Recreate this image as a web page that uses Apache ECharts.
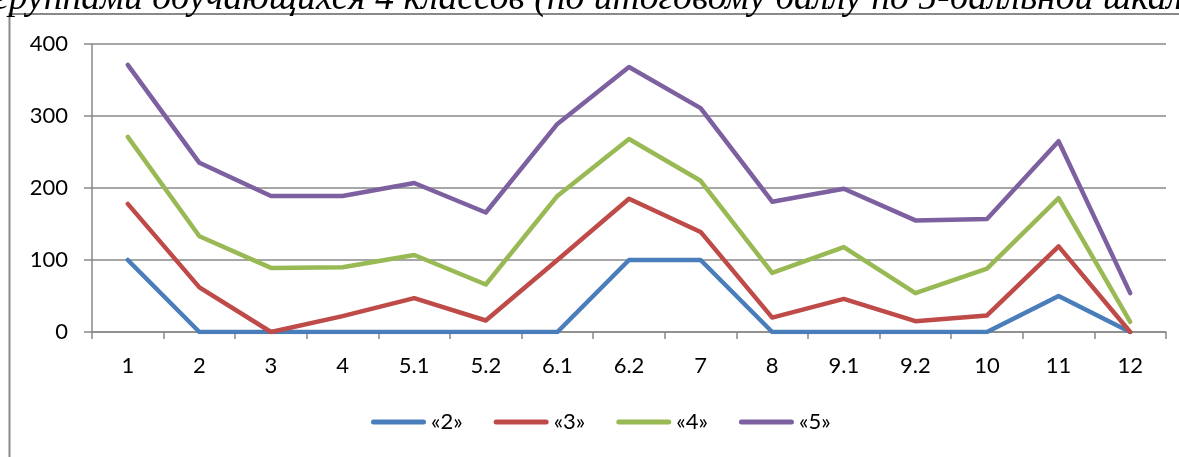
<!DOCTYPE html>
<html>
<head>
<meta charset="utf-8">
<script src="https://cdn.jsdelivr.net/npm/echarts@6/dist/echarts.min.js"></script>
<style>
  html, body { margin: 0; padding: 0; background: #fff; }
  #chart { width: 1179px; height: 457px; }
</style>
</head>
<body>
<div id="chart"></div>
<script>
// Task / item numbers along the horizontal axis
const categories = ['1', '2', '3', '4', '5.1', '5.2', '6.1', '6.2', '7', '8', '9.1', '9.2', '10', '11', '12'];

// Cumulative line values for each grade group
const grade2 = [100, 0, 0, 0, 0, 0, 0, 100, 100, 0, 0, 0, 0, 50, 0];
const grade3 = [178, 62, 0, 22, 47, 16, 100, 185, 139, 20, 46, 15, 23, 119, 0];
const grade4 = [271, 133, 89, 90, 107, 66, 189, 268, 210, 82, 118, 54, 88, 186, 14];
const grade5 = [371, 235, 189, 189, 207, 166, 289, 368, 311, 181, 199, 155, 157, 265, 54];

const seriesNames = ['«2»', '«3»', '«4»', '«5»'];
const yTicks = { min: 0, max: 400, interval: 100 };

const titleText = 'группами обучающихся 4 классов (по итоговому баллу по 5-балльной шкале)';

const colors = ['#4A7EBB', '#BE4B48', '#98B954', '#7D60A0'];
const gridColor = '#898989';
const labelFont = 'Lato';

// rounded bar used as the legend key for each line
const legendKey = 'path://M2.5,0 H52.5 A2.5,2.5 0 0 1 52.5,5 H2.5 A2.5,2.5 0 0 1 2.5,0 Z';
const legendText = { fontFamily: labelFont, fontSize: 22, color: '#000' };

const chart = echarts.init(document.getElementById('chart'), null, { renderer: 'canvas' });

function lineSeries(name, data, color) {
  return {
    name: name,
    type: 'line',
    data: data,
    symbol: 'none',
    smooth: false,
    lineStyle: { color: color, width: 4.5, cap: 'round', join: 'round' },
    itemStyle: { color: color },
    emphasis: { disabled: true },
    animation: false
  };
}

chart.setOption({
  animation: false,
  color: colors,
  graphic: [
    {
      type: 'rect',
      z: 0,
      shape: { x: 9.5, y: 14, width: 1400, height: 700 },
      style: { fill: 'none', stroke: gridColor, lineWidth: 2 },
      silent: true
    },
    {
      type: 'text',
      z: 10,
      x: -6,
      y: -1,
      style: {
        text: titleText,
        font: 'italic 37.6px "Liberation Serif"',
        fill: '#000',
        align: 'left',
        verticalAlign: 'middle'
      },
      silent: true
    }
  ],
  grid: { left: 92, right: 13, top: 44, bottom: 125, containLabel: false },
  legend: {
    data: seriesNames.map(n => ({ name: n, icon: legendKey, textStyle: legendText })),
    left: 366,
    top: 406,
    itemWidth: 55,
    itemHeight: 5,
    itemGap: 31,
    textStyle: legendText,
    selectedMode: false
  },
  xAxis: {
    type: 'category',
    data: categories,
    boundaryGap: true,
    axisLine: { show: true, lineStyle: { color: gridColor, width: 1.5 } },
    axisTick: { show: true, length: 7, lineStyle: { color: gridColor, width: 1.5 } },
    axisLabel: { fontFamily: labelFont, fontSize: 22, color: '#000', margin: 23 },
    splitLine: { show: false }
  },
  yAxis: {
    type: 'value',
    min: yTicks.min,
    max: yTicks.max,
    interval: yTicks.interval,
    axisLine: { show: true, lineStyle: { color: gridColor, width: 1.5 } },
    axisTick: { show: true, length: 8, lineStyle: { color: gridColor, width: 1.5 } },
    axisLabel: { fontFamily: labelFont, fontSize: 22, color: '#000', margin: 24 },
    splitLine: { show: true, lineStyle: { color: gridColor, width: 1.5 } }
  },
  series: [
    lineSeries(seriesNames[0], grade2, colors[0]),
    lineSeries(seriesNames[1], grade3, colors[1]),
    lineSeries(seriesNames[2], grade4, colors[2]),
    lineSeries(seriesNames[3], grade5, colors[3])
  ]
});
</script>
</body>
</html>
